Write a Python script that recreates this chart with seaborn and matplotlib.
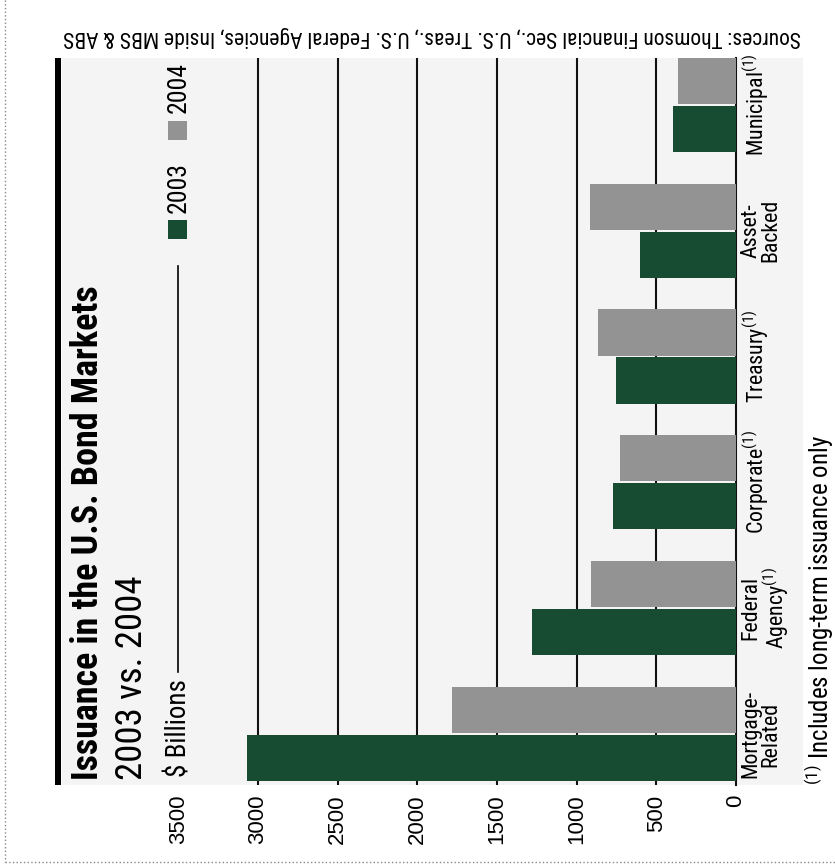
import matplotlib
matplotlib.use("Agg")
import matplotlib.pyplot as plt
from matplotlib import font_manager
from matplotlib.font_manager import FontProperties
from matplotlib.patches import Rectangle
from matplotlib.lines import Line2D
import pandas as pd
import seaborn as sns

# ---- data ($ billions) ----
categories = ["Mortgage-\nRelated", "Federal\nAgency$^{(1)}$", "Corporate$^{(1)}$",
              "Treasury$^{(1)}$", "Asset-\nBacked", "Municipal$^{(1)}$"]
issuance_2003 = [3070, 1280, 775, 755, 600, 395]
issuance_2004 = [1780, 910, 725, 865, 915, 365]
years = ["2003", "2004"]
value_ticks = [0, 500, 1000, 1500, 2000, 2500, 3000, 3500]
grid_values = [500, 1000, 1500, 2000, 2500, 3000]

GREEN = "#174c32"
GRAY = "#939393"
PANEL = "#f4f4f4"


def _weight(w):
    if isinstance(w, str):
        return font_manager.weight_dict.get(w, 400)
    return int(w)


def pick_condensed(bold):
    """Find a narrow/condensed sans face; returns a font file path or None."""
    prefs = ["Liberation Sans Narrow", "Roboto Condensed", "Arimo", "Noto Sans",
             "Open Sans", "DejaVu Sans", "Roboto"]
    best, best_score = None, None
    for f in font_manager.fontManager.ttflist:
        cond = (f.stretch in ("condensed", "semi-condensed", "extra-condensed")
                or "Narrow" in f.name or "Condensed" in f.name)
        if not cond or f.style != "normal":
            continue
        w = _weight(f.weight)
        target = 700 if bold else 400
        if abs(w - target) > 150:
            continue
        fam_rank = prefs.index(f.name) if f.name in prefs else len(prefs)
        extra = 1 if ("Extra" in f.fname or "Semi" in f.fname or "Ultra" in f.fname) else 0
        score = (fam_rank, extra, abs(w - target))
        if best_score is None or score < best_score:
            best, best_score = f.fname, score
    return best


available = {f.name for f in font_manager.fontManager.ttflist}
REGULAR = "Liberation Sans" if "Liberation Sans" in available else "DejaVu Sans"
cond_reg = pick_condensed(False)
cond_bold = pick_condensed(True) or cond_reg


def narrow(bold=False):
    path = cond_bold if bold else cond_reg
    if path:
        return FontProperties(fname=path)
    return FontProperties(family=REGULAR, weight="bold" if bold else "normal")


plt.rcParams["font.family"] = [REGULAR, "DejaVu Sans"]
plt.rcParams["mathtext.default"] = "regular"

W, H = 835, 867
fig = plt.figure(figsize=(W / 100, H / 100), dpi=100)
fig.patch.set_facecolor("white")
renderer = fig.canvas.get_renderer()


def fx(x):
    return x / W


def fy(y):
    return 1 - y / H


def fitted(fp, text, length_px):
    """Return a copy of fp sized so the text runs length_px along its baseline."""
    probe = fp.copy()
    probe.set_size(20)
    t = fig.text(0, 0, text, fontproperties=probe)
    run = t.get_window_extent(renderer).width
    t.remove()
    out = fp.copy()
    out.set_size(20 * length_px / run)
    return out


# plot panel background and the heavy rule beside the heading
fig.patches.append(Rectangle((fx(62), fy(785)), (803 - 62) / W, (785 - 58) / H,
                             transform=fig.transFigure, facecolor=PANEL,
                             edgecolor="none", zorder=-2))
fig.patches.append(Rectangle((fx(55), fy(785)), 6 / W, (785 - 58) / H,
                             transform=fig.transFigure, facecolor="black",
                             edgecolor="none", zorder=-1))

ax = fig.add_axes([fx(62), fy(785), (736 - 62) / W, (785 - 58) / H])
ax.set_facecolor("none")

df = pd.DataFrame({
    "category": categories * 2,
    "year": [years[0]] * len(categories) + [years[1]] * len(categories),
    "value": issuance_2003 + issuance_2004,
})

sns.barplot(data=df, x="value", y="category", hue="year",
            order=categories[::-1], hue_order=[years[1], years[0]],
            palette={years[0]: GREEN, years[1]: GRAY}, orient="h",
            width=0.7625, gap=0.04, saturation=1, errorbar=None,
            legend=False, linewidth=0, ax=ax)

for v in grid_values:
    ax.axvline(v, color="#111111", lw=1.5, zorder=0.5)
ax.axvline(0, color="#111111", lw=1.5, zorder=0.5, clip_on=False)

ax.set_xlim(4230, 0)
ax.set_ylim(5.403, -0.371)
ax.set_xlabel("")
ax.set_ylabel("")
for s in ax.spines.values():
    s.set_visible(False)

ax.set_xticks(value_ticks)
ax.set_xticklabels([str(v) for v in value_ticks], rotation=90,
                   fontfamily=REGULAR, fontsize=16)
ax.tick_params(axis="x", length=0, pad=7)

cat_fp = fitted(narrow(), "Mortgage-", 88)
ax.yaxis.tick_right()
ax.set_yticks(range(len(categories)))
ax.set_yticklabels(categories[::-1])
ax.tick_params(axis="y", length=0, pad=3)
for lbl in ax.get_yticklabels():
    lbl.set_fontproperties(cat_fp)
    lbl.set_rotation(90)
    lbl.set_va("center")
    lbl.set_ha("left")
    lbl.set_multialignment("center")
    lbl.set_linespacing(0.95)

# heading block
fig.text(fx(88), fy(780), "Issuance in the U.S. Bond Markets", rotation=90,
         ha="center", va="bottom",
         fontproperties=fitted(narrow(True), "Issuance in the U.S. Bond Markets", 495))
fig.text(fx(132), fy(780), "2003 vs. 2004", rotation=90, ha="center", va="bottom",
         fontproperties=fitted(narrow(), "2003 vs. 2004", 205))
fig.text(fx(179), fy(777), "$ Billions", rotation=90, ha="center", va="bottom",
         fontproperties=fitted(narrow(), "$ Billions", 98))
fig.add_artist(Line2D([fx(178), fx(178)], [fy(672), fy(266)],
                      transform=fig.transFigure, color="black", lw=1.2))

# legend
leg_fp = fitted(narrow(), "2003", 51)
fig.patches.append(Rectangle((fx(168), fy(239)), 19 / W, 19 / H,
                             transform=fig.transFigure, facecolor=GREEN,
                             edgecolor="none"))
fig.text(fx(179), fy(213), years[0], rotation=90, ha="center", va="bottom",
         fontproperties=leg_fp)
fig.patches.append(Rectangle((fx(168), fy(140)), 19 / W, 19 / H,
                             transform=fig.transFigure, facecolor=GRAY,
                             edgecolor="none"))
fig.text(fx(179), fy(113), years[1], rotation=90, ha="center", va="bottom",
         fontproperties=leg_fp)

# footnote and sources
note = r"$^{(1)}$ Includes long-term issuance only"
fig.text(fx(819), fy(785), note, rotation=90, ha="center", va="bottom",
         fontproperties=fitted(narrow(), note, 350))
src = "Sources: Thomson Financial Sec., U.S. Treas., U.S. Federal Agencies, Inside MBS & ABS"
fig.text(fx(801), fy(37), src, rotation=180, ha="right", va="center",
         fontproperties=fitted(narrow(), src, 741))

# dotted frame
fig.add_artist(Line2D([fx(5), fx(5)], [fy(0), fy(862)], transform=fig.transFigure,
                      color="#888888", lw=1, ls=":"))
fig.add_artist(Line2D([fx(5), fx(835)], [fy(862), fy(862)], transform=fig.transFigure,
                      color="#888888", lw=1, ls=":"))

fig.savefig("out.png", dpi=100)
